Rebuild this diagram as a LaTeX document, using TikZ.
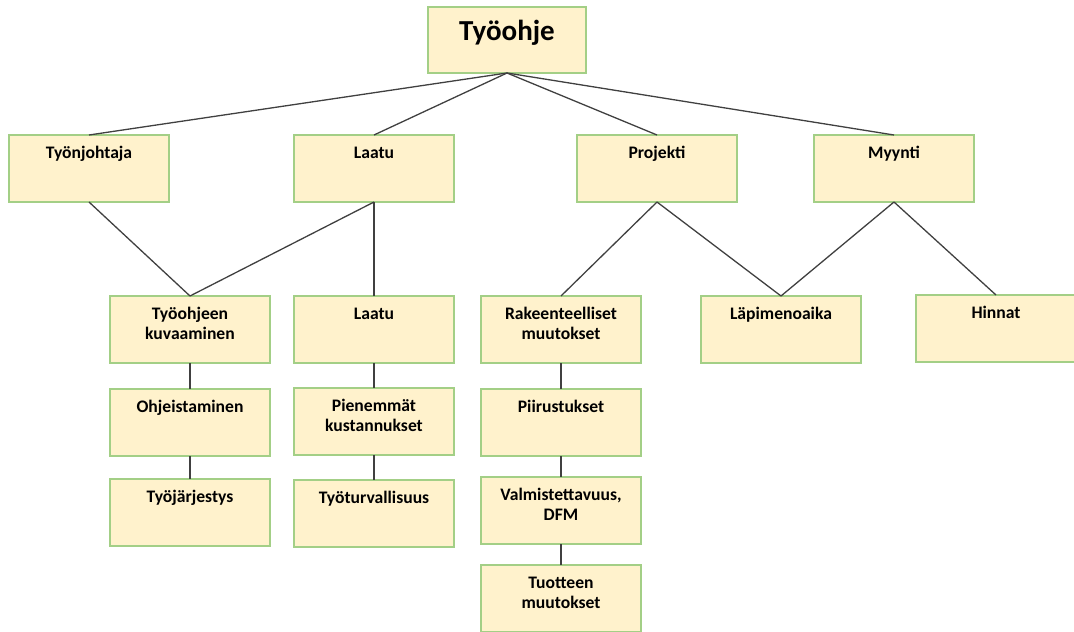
\documentclass[tikz,border=0pt]{standalone}
\usepackage{fontspec}
\setmainfont{Carlito}
\usetikzlibrary{positioning}
\definecolor{boxFill}{HTML}{FFF2CC}
\definecolor{boxLine}{HTML}{A3CF86}
\definecolor{linkGray}{HTML}{404040}
\tikzset{
    orgbox/.style={draw=boxLine,fill=boxFill,line width=1.3pt,inner sep=0pt,outer sep=0pt,
        anchor=north west,font=\bfseries\fontsize{17.6}{20.5}\selectfont,
        execute at begin node={\begin{minipage}[t][67pt][t]{160pt}\centering\rule{0pt}{23pt}},
        execute at end node={\end{minipage}}},
    titlebox/.style={draw=boxLine,fill=boxFill,line width=1.3pt,inner sep=0pt,outer sep=0pt,
        anchor=north west,font=\bfseries\fontsize{29}{34}\selectfont,
        execute at begin node={\begin{minipage}[t][66pt][t]{158pt}\centering\rule{0pt}{33.5pt}},
        execute at end node={\end{minipage}}},
    link/.style={draw=linkGray,line width=1.3pt}
}

\begin{document}
\begin{tikzpicture}[x=1pt,y=-1pt,node distance=21pt]
    \useasboundingbox (0,0) rectangle (1074,632);
    % top
    \node[titlebox] (tyoohje) at (428,7) {Työohje};
    % first row
    \node[orgbox] (johtaja) at (9,135) {Työnjohtaja};
    \node[orgbox] (laatu) at (294,135) {Laatu};
    \node[orgbox] (projekti) at (577,135) {Projekti};
    \node[orgbox] (myynti) at (814,135) {Myynti};
    % second row
    \node[orgbox] (kuvaus) at (110,296) {Työohjeen\\kuvaaminen};
    \node[orgbox] (laatu2) at (294,296) {Laatu};
    \node[orgbox] (rakenne) at (481,296) {Rakeenteelliset\\muutokset};
    \node[orgbox] (lapimeno) at (701,296) {Läpimenoaika};
    \node[orgbox] (hinnat) at (916,295) {Hinnat};
    % chains
    \node[orgbox,below=26pt of kuvaus] (ohjeet) {Ohjeistaminen};
    \node[orgbox,below=23pt of ohjeet] (jarjestys) {Työjärjestys};
    \node[orgbox,below=25pt of laatu2] (kustannus) {Pienemmät\\kustannukset};
    \node[orgbox,below=25pt of kustannus] (turva) {Työturvallisuus};
    \node[orgbox,below=26pt of rakenne] (piirros) {Piirustukset};
    \node[orgbox,below=of piirros] (dfm) {Valmistettavuus,\\DFM};
    \node[orgbox,below=of dfm] (tuote) {Tuotteen\\muutokset};

    \foreach \n in {johtaja,laatu,projekti,myynti}
        \draw[link] (tyoohje.south) -- (\n.north);
    \draw[link] (johtaja.south) -- (kuvaus.north);
    \draw[link] (laatu.south) -- (kuvaus.north);
    \draw[link] (laatu.south) -- (laatu2.north);
    \draw[link] (projekti.south) -- (rakenne.north);
    \draw[link] (projekti.south) -- (lapimeno.north);
    \draw[link] (myynti.south) -- (lapimeno.north);
    \draw[link] (myynti.south) -- (hinnat.north);
    \draw[link] (kuvaus) -- (ohjeet) -- (jarjestys);
    \draw[link] (laatu2) -- (kustannus) -- (turva);
    \draw[link] (rakenne) -- (piirros) -- (dfm) -- (tuote);
\end{tikzpicture}
\end{document}
